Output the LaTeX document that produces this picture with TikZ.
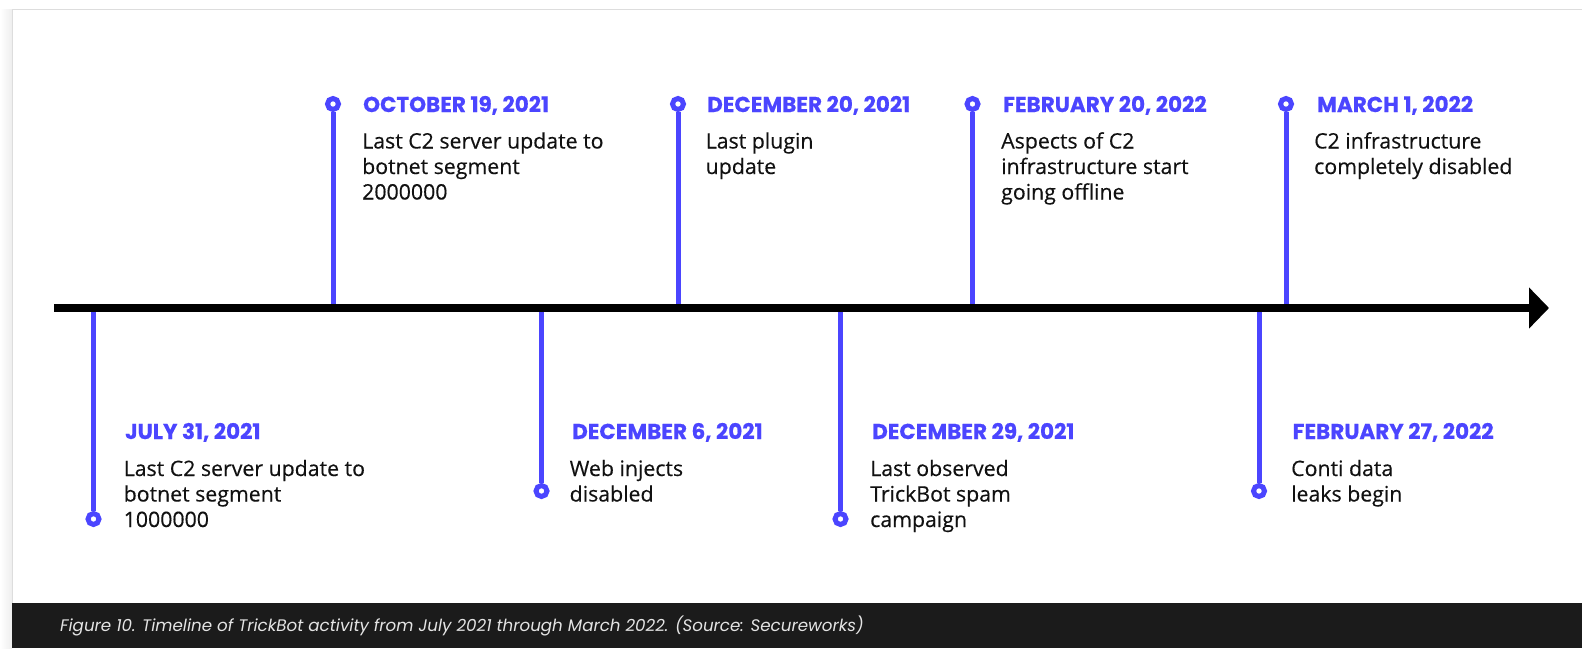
\documentclass[tikz,border=0pt]{standalone}
\usepackage{fontspec}
\setmainfont{Open Sans}[FakeBold=0.35]
\newfontfamily\bodyfont{Open Sans}[FakeBold=0.35]
\newfontfamily\datefont{Poppins}[UprightFont=* Bold, BoldFont=* Bold, FakeBold=0.5]
\newfontfamily\capfont{Poppins}
\usetikzlibrary{arrows.meta}
\definecolor{evblue}{HTML}{4B45FF}
\definecolor{evtext}{HTML}{111111}
\definecolor{capbar}{HTML}{1B1B1B}
\definecolor{captext}{HTML}{E4E4E4}
\definecolor{frameline}{HTML}{DDDDDD}
\definecolor{shadowgray}{HTML}{EEEEEE}
\newcommand{\evlines}[1]{\parbox[t]{320pt}{\raggedright\bodyfont\fontsize{21.3}{25.5}\selectfont #1}}
\tikzset{
  datelbl/.style={anchor=base west, inner sep=0pt, text=evblue, font=\datefont\bfseries\fontsize{21.5}{24}\selectfont},
  bodylbl/.style={anchor=base west, inner sep=0pt, text=evtext},
  stem/.style={draw=evblue, line width=5pt},
  pin/.style={circle, draw=evblue, fill=white, line width=5pt, minimum size=11pt, inner sep=0pt},
  timeline/.style={line width=8pt, -{Triangle[length=20pt,width=40pt]}},
  captionlbl/.style={anchor=west, inner sep=0pt, text=captext, font=\capfont\itshape\fontsize{16.7}{19}\selectfont}
}
\begin{document}
\begin{tikzpicture}[x=1pt,y=-1pt]
\useasboundingbox (0,0) rectangle (1582,648);
% page background and frame
\fill[white] (0,0) rectangle (1582,648);
\shade[left color=white, right color=shadowgray] (0,9) rectangle (12,648);
\draw[frameline, line width=1pt] (12,648) -- (12,9) -- (1582,9);
% caption bar
\fill[capbar] (12,603) rectangle (1582,648);
\node[captionlbl] (cap) at (60,626) {Figure 10. Timeline of TrickBot activity from July 2021 through March 2022. (Source: Secureworks)};

% timeline coordinates
\coordinate (tlstart) at (54,308);
\coordinate (tlend) at (1549,308);

% stem ends on the timeline
\coordinate (t1) at (93.5,304);
\coordinate (t2) at (333,308);
\coordinate (t3) at (541.5,304);
\coordinate (t4) at (678,308);
\coordinate (t5) at (840.5,304);
\coordinate (t6) at (972.5,308);
\coordinate (t7) at (1259,304);
\coordinate (t8) at (1286,308);

% pins
\node[pin] (p1) at (93.5,519) {};
\node[pin] (p2) at (333,104) {};
\node[pin] (p3) at (541.5,491) {};
\node[pin] (p4) at (678,104) {};
\node[pin] (p5) at (840.5,519) {};
\node[pin] (p6) at (972.5,104) {};
\node[pin] (p7) at (1259,491) {};
\node[pin] (p8) at (1286,104) {};

% stems
\draw[stem] (t1) -- (p1.north);
\draw[stem] (p2.south) -- (t2);
\draw[stem] (t3) -- (p3.north);
\draw[stem] (p4.south) -- (t4);
\draw[stem] (t5) -- (p5.north);
\draw[stem] (p6.south) -- (t6);
\draw[stem] (t7) -- (p7.north);
\draw[stem] (p8.south) -- (t8);

% timeline
\draw[timeline] (tlstart) -- (tlend);

% top labels
\node[datelbl] (d2) at (363,112) {OCTOBER 19, 2021};
\node[bodylbl] (b2) at (362,148.5) {\evlines{Last C2 server update to\\botnet segment\\2000000}};
\node[datelbl] (d4) at (707,112) {DECEMBER 20, 2021};
\node[bodylbl] (b4) at (705.5,148.5) {\evlines{Last plugin\\update}};
\node[datelbl] (d6) at (1003,112) {FEBRUARY 20, 2022};
\node[bodylbl] (b6) at (1001,148.5) {\evlines{Aspects of C2\\infrastructure start\\going offline}};
\node[datelbl] (d8) at (1317,112) {MARCH 1, 2022};
\node[bodylbl] (b8) at (1314,148.5) {\evlines{C2 infrastructure\\completely disabled}};

% bottom labels
\node[datelbl] (d1) at (125,439) {JULY 31, 2021};
\node[bodylbl] (b1) at (123.5,476) {\evlines{Last C2 server update to\\botnet segment\\1000000}};
\node[datelbl] (d3) at (572,439) {DECEMBER 6, 2021};
\node[bodylbl] (b3) at (569.5,476) {\evlines{Web injects\\disabled}};
\node[datelbl] (d5) at (872,439) {DECEMBER 29, 2021};
\node[bodylbl] (b5) at (870,476) {\evlines{Last observed\\TrickBot spam\\campaign}};
\node[datelbl] (d7) at (1292.5,439) {FEBRUARY 27, 2022};
\node[bodylbl] (b7) at (1291,476) {\evlines{Conti data\\leaks begin}};
\end{tikzpicture}
\end{document}
